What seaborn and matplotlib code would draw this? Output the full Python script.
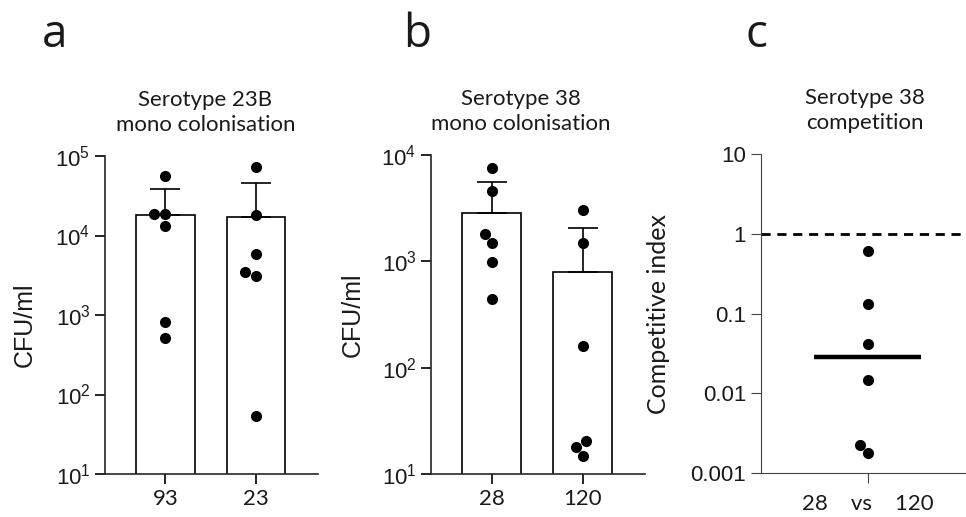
import numpy as np
import pandas as pd
import matplotlib
matplotlib.use("Agg")
import matplotlib.pyplot as plt
import seaborn as sns

# values (CFU/ml, log axes)
strains_23b = ["93", "23"]
cfu_23b_93 = [56000, 18800, 18800, 13100, 820, 516]
cfu_23b_23 = [73400, 17900, 5870, 3480, 3070, 54]

strains_38 = ["28", "120"]
cfu_38_28 = [7600, 4590, 1810, 1490, 986, 446]
cfu_38_120 = [3060, 1500, 159, 20.3, 18.1, 14.9]

ci_label = "28    vs    120"
ci_values = [0.615, 0.131, 0.042, 0.0146, 0.00224, 0.00178]
ci_line = 0.029
ci_ticks = [0.001, 0.01, 0.1, 1, 10]
ci_ticklabels = ["0.001", "0.01", "0.1", "1", "10"]

sns.set_theme(style="ticks", rc={"text.color": "#1a1a1a", "axes.labelcolor": "#1a1a1a",
                                 "xtick.labelcolor": "#1a1a1a", "ytick.labelcolor": "#1a1a1a"})
plt.rcParams["font.family"] = ["Liberation Sans", "DejaVu Sans"]
plt.rcParams["axes.linewidth"] = 1.2

TITLE_FONT = "Lato"


def bar_panel(ax, strains, groups, ylim, title, title_x, ylab_x, ylab_y):
    df = pd.DataFrame({
        "strain": np.repeat(strains, [len(g) for g in groups]),
        "cfu": np.concatenate(groups),
    })
    sns.barplot(data=df, x="strain", y="cfu", order=strains, estimator="mean",
                errorbar=None, color="white", saturation=1, edgecolor="black",
                linewidth=1.2, width=0.65, ax=ax, zorder=1)
    ax.set_yscale("log")
    stats = df.groupby("strain", sort=False)["cfu"].agg(["mean", "std"]).loc[strains]
    ax.errorbar(np.arange(len(strains)), stats["mean"],
                yerr=[np.zeros(len(strains)), stats["std"]], fmt="none",
                ecolor="black", elinewidth=1.2, capsize=11, capthick=1.2, zorder=2)
    sns.swarmplot(data=df, x="strain", y="cfu", order=strains, color="black",
                  size=8, ax=ax, zorder=4)
    ax.set_ylim(*ylim)
    ax.set_xlim(-0.668, 1.685)
    decades = 10.0 ** np.arange(np.log10(ylim[0]), np.log10(ylim[1]) + 1)
    ax.set_yticks(decades)
    ax.yaxis.set_minor_locator(matplotlib.ticker.NullLocator())
    ax.set_xticks(range(len(strains)), labels=strains, fontfamily=TITLE_FONT, fontsize=16)
    ax.tick_params(axis="y", labelsize=16, length=7, width=1.2, color="black")
    ax.tick_params(axis="x", length=7, width=1.2, color="black", pad=4)
    ax.set_xlabel("")
    ax.set_ylabel("CFU/ml", fontsize=18)
    ax.yaxis.set_label_coords(ylab_x, ylab_y)
    ax.set_title(title, fontfamily=TITLE_FONT, fontsize=16, x=title_x, pad=18, linespacing=1.3)
    sns.despine(ax=ax)


fig = plt.figure(figsize=(9.66, 5.17), dpi=100)

ax_a = fig.add_axes([105 / 966, 1 - 474 / 517, 213 / 966, 318 / 517])
bar_panel(ax_a, strains_23b, [cfu_23b_93, cfu_23b_23], (10, 1e5),
          "Serotype 23B\nmono colonisation", 0.472, -0.32, 0.47)

ax_b = fig.add_axes([431 / 966, 1 - 474 / 517, 214 / 966, 319 / 517])
bar_panel(ax_b, strains_38, [cfu_38_28, cfu_38_120], (10, 1e4),
          "Serotype 38\nmono colonisation", 0.42, -0.31, 0.50)

# panel c: competitive index
ax_c = fig.add_axes([760.7 / 966, 1 - 473.3 / 517, 205.3 / 966, 319.3 / 517])
ax_c.set_yscale("log")
df_c = pd.DataFrame({"pair": [ci_label] * len(ci_values), "ci": ci_values})
sns.swarmplot(data=df_c, x="pair", y="ci", color="black", size=8, ax=ax_c, zorder=4)
ax_c.axhline(1, color="black", lw=2, dashes=(3.3, 2.4), zorder=1)
ax_c.hlines(ci_line, -0.533, 0.533, color="black", lw=3.2, zorder=3)
ax_c.set_xlim(-1.07, 0.98)
ax_c.set_ylim(1e-3, 10)
ax_c.set_yticks(ci_ticks, labels=ci_ticklabels)
ax_c.yaxis.set_minor_locator(matplotlib.ticker.NullLocator())
ax_c.set_xticks([0], labels=[ci_label], fontfamily=TITLE_FONT, fontsize=16)
ax_c.tick_params(axis="y", labelsize=16, length=7, width=0.8, color="#444444")
ax_c.tick_params(axis="x", length=7, width=0.8, color="#444444", pad=8)
for side in ["left", "bottom"]:
    ax_c.spines[side].set_color("#444444")
    ax_c.spines[side].set_linewidth(0.8)
sns.despine(ax=ax_c)
ax_c.set_xlabel("")
ax_c.set_ylabel("Competitive index", fontfamily=TITLE_FONT, fontsize=18)
ax_c.yaxis.set_label_coords(-0.44, 0.50)
ax_c.set_title("Serotype 38\ncompetition", fontfamily=TITLE_FONT, fontsize=16,
               x=0.508, pad=18, linespacing=1.3)

for letter, x in [("a", 55), ("b", 417), ("c", 756)]:
    fig.text(x / 966, 1 - 47 / 517, letter, ha="center", va="baseline",
             fontsize=33, fontfamily="Open Sans")

fig.savefig("out.png", dpi=100)
